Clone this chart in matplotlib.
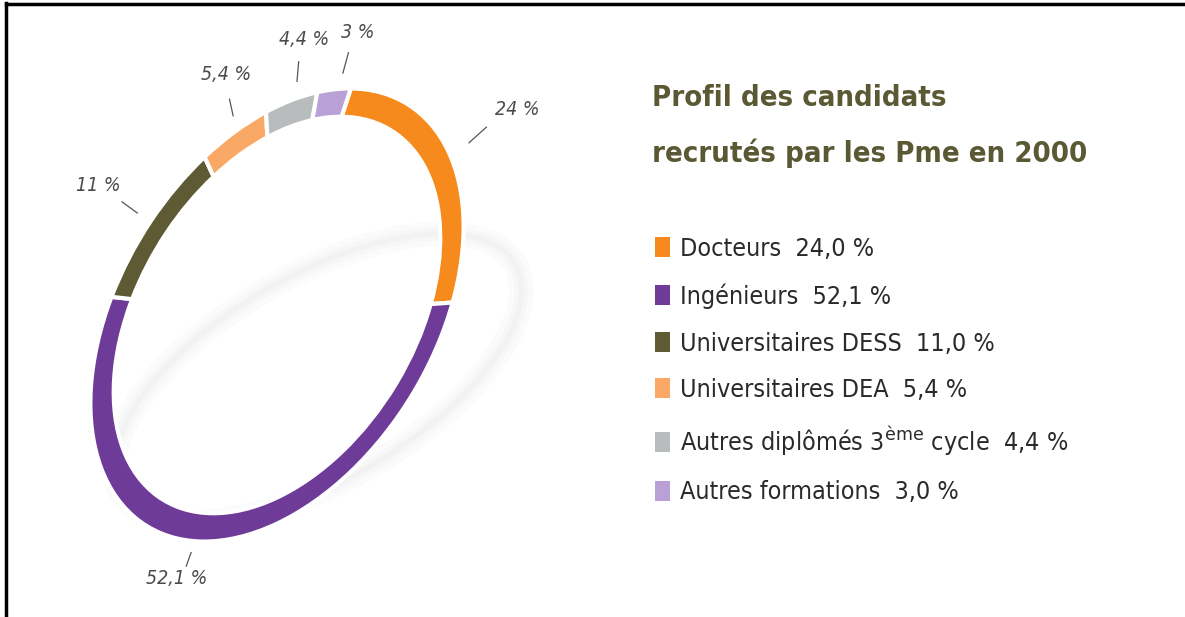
import numpy as np
import matplotlib.pyplot as plt
from matplotlib.transforms import Affine2D
from matplotlib.patches import Ellipse, Rectangle

categories = ['Docteurs', 'Ingénieurs', 'Universitaires DESS',
              'Universitaires DEA', 'Autres diplômés 3$^{\\mathrm{ème}}$ cycle',
              'Autres formations']
shares = [24.0, 52.1, 11.0, 5.4, 4.4, 3.0]
colors = ['#f68a1c', '#6e3b98', '#5e5a33', '#f9a866', '#b9bcbc', '#b9a0d6']
ring_labels = ['24 %', '52,1 %', '11 %', '5,4 %', '4,4 %', '3 %']
title = 'Profil des candidats\nrecrutés par les Pme en 2000'

narrow = dict(family='DejaVu Sans', stretch='condensed')

W, H = 1185, 617
fig = plt.figure(figsize=(W / 100, H / 100), dpi=100)
ax = fig.add_axes([0, 0, 1, 1])
ax.set_xlim(0, W)
ax.set_ylim(0, H)
ax.axis('off')

# ring is a pie squeezed into a tilted ellipse
cx, cy = 277, H - 315
a, b, tilt = 248, 157, 58.3
ring = Affine2D().scale(a, b).rotate_deg(tilt).translate(cx, cy) + ax.transData

# faint shadow under the ring
for lw, al in [(18, 0.03), (10, 0.04), (4, 0.045)]:
    ax.add_patch(Ellipse((318, H - 378), 455, 205, angle=30, fill=False,
                         edgecolor='#9a9a9a', linewidth=lw, alpha=al))

wedges, _ = ax.pie(shares, colors=colors, startangle=21, counterclock=False,
                   radius=1, wedgeprops=dict(width=0.125, edgecolor='white',
                                             linewidth=3))
for w in wedges:
    w.set_transform(ring)
ax.set_xlim(0, W)
ax.set_ylim(0, H)
ax.set_aspect('auto')

# percentage labels around the ring (radius and small angle shift per label)
label_r = [1.36, 1.165, 1.40, 1.30, 1.27, 1.25]
label_shift = [-4.5, -3.9, 0.4, -0.9, -1.9, -2.3]
tick_in = [1.1, 1.05, 1.1, 1.08, 1.08, 1.07]
tick_out = [1.2, 1.11, 1.22, 1.17, 1.17, 1.16]
for w, lab, r, sh, t0, t1 in zip(wedges, ring_labels, label_r, label_shift,
                                 tick_in, tick_out):
    mid = np.deg2rad((w.theta1 + w.theta2) / 2)
    tk = mid + np.deg2rad(sh) * 0.6
    ax.plot([t0 * np.cos(tk), t1 * np.cos(tk)],
            [t0 * np.sin(tk), t1 * np.sin(tk)],
            color='#555555', lw=0.9, transform=ring)
    lt = mid + np.deg2rad(sh)
    ax.text(r * np.cos(lt), r * np.sin(lt), lab, transform=ring,
            ha='center', va='center', fontsize=14, style='italic',
            color='#4a4a4a', **narrow)

fig.text(652 / W, 1 - 126 / H, title, fontsize=21, fontweight='bold',
         color='#5b5934', linespacing=2.15, va='center', **narrow)

legend_labels = [f"{c}  {v:.1f} %".replace('.', ',')
                 for c, v in zip(categories, shares)]
handles = [Rectangle((0, 0), 1, 1, facecolor=c) for c in colors]
fig.legend(handles, legend_labels, loc='upper left',
           bbox_to_anchor=(655 / W, 1 - 237 / H), frameon=False,
           prop=dict(size=18, **narrow), labelcolor='#2a2a2a',
           handlelength=0.6, handleheight=0.85, handletextpad=0.4,
           labelspacing=0.9, borderpad=0, borderaxespad=0)

# frame lines of the scanned page
ax.plot([6, 6], [0, H - 3], color='black', lw=2.5)
ax.plot([6, W], [H - 4, H - 4], color='black', lw=2.5)

fig.savefig('out.png', dpi=100)
